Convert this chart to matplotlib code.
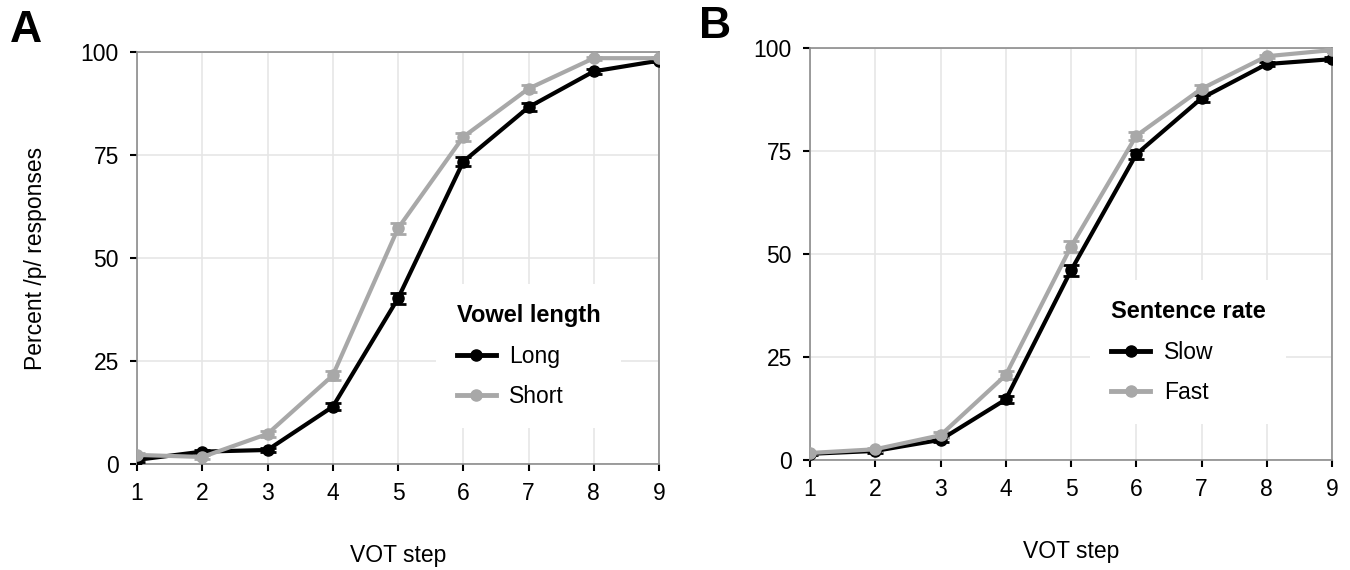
import matplotlib.pyplot as plt
from matplotlib.lines import Line2D

plt.rcParams['font.family'] = ['Liberation Sans', 'DejaVu Sans']

# data
steps = [1, 2, 3, 4, 5, 6, 7, 8, 9]

long_vals = [1.0, 3.0, 3.4, 13.9, 40.2, 73.4, 86.6, 95.3, 97.9]
long_err = [0.4, 0.5, 0.5, 0.9, 1.3, 1.1, 0.9, 0.6, 0.4]
short_vals = [2.2, 1.7, 7.3, 21.5, 57.2, 79.4, 91.1, 98.5, 98.5]
short_err = [0.4, 0.4, 0.7, 1.0, 1.3, 1.0, 0.8, 0.4, 0.4]

slow_vals = [1.5, 2.2, 4.9, 14.7, 46.0, 74.2, 87.8, 96.1, 97.3]
slow_err = [0.3, 0.4, 0.6, 0.9, 1.3, 1.1, 0.9, 0.5, 0.4]
fast_vals = [1.7, 2.6, 6.0, 20.6, 51.8, 78.7, 90.1, 98.0, 99.5]
fast_err = [0.3, 0.4, 0.7, 1.0, 1.3, 1.0, 0.8, 0.4, 0.3]

yticks = [0, 25, 50, 75, 100]

BLACK = '#000000'
GREY = '#a8a8a8'
FS = 16.5

fig = plt.figure(figsize=(13.5, 5.7), dpi=100)
axA = fig.add_axes([0.1015, 0.186, 0.3867, 0.7228])
axB = fig.add_axes([0.6, 0.193, 0.3867, 0.7228])


def draw(ax, s1, e1, l1, s2, e2, l2, title, legpos):
    handles = []
    for vals, errs, col, lab in [(s1, e1, BLACK, l1), (s2, e2, GREY, l2)]:
        ax.errorbar(steps, vals, yerr=errs, color=col, lw=3, marker='o',
                    ms=8, capsize=6, capthick=2, elinewidth=2, zorder=3)
        handles.append(Line2D([], [], color=col, lw=3.5, marker='o', ms=8,
                              label=lab))
    ax.set_xlim(1, 9)
    ax.set_ylim(0, 100)
    ax.set_xticks(steps)
    ax.set_yticks(yticks)
    ax.grid(True, color='#e6e6e6', lw=1.2, zorder=0)
    ax.set_axisbelow(True)
    for sp in ax.spines.values():
        sp.set_color('#8c8c8c')
        sp.set_linewidth(1.2)
    ax.tick_params(length=5, width=1.5, color='black', labelsize=FS, pad=8)
    ax.set_xlabel('VOT step', fontsize=FS, labelpad=28)
    ax.legend(handles=handles, title=title, loc='center',
              bbox_to_anchor=legpos, fontsize=FS,
              title_fontproperties={'weight': 'bold', 'size': FS + 0.5},
              frameon=True, facecolor='white', edgecolor='none',
              framealpha=1, handlelength=1.7, handletextpad=0.6,
              labelspacing=0.75, borderpad=0.9, alignment='left')


draw(axA, long_vals, long_err, 'Long', short_vals, short_err, 'Short',
     'Vowel length', (0.75, 0.262))
draw(axB, slow_vals, slow_err, 'Slow', fast_vals, fast_err, 'Fast',
     'Sentence rate', (0.725, 0.262))

axA.set_ylabel('Percent /p/ responses', fontsize=FS, labelpad=24)

fig.text(0.007, 0.947, 'A', fontsize=32, fontweight='bold', va='center')
fig.text(0.518, 0.953, 'B', fontsize=32, fontweight='bold', va='center')

fig.savefig('out.png', dpi=100)
